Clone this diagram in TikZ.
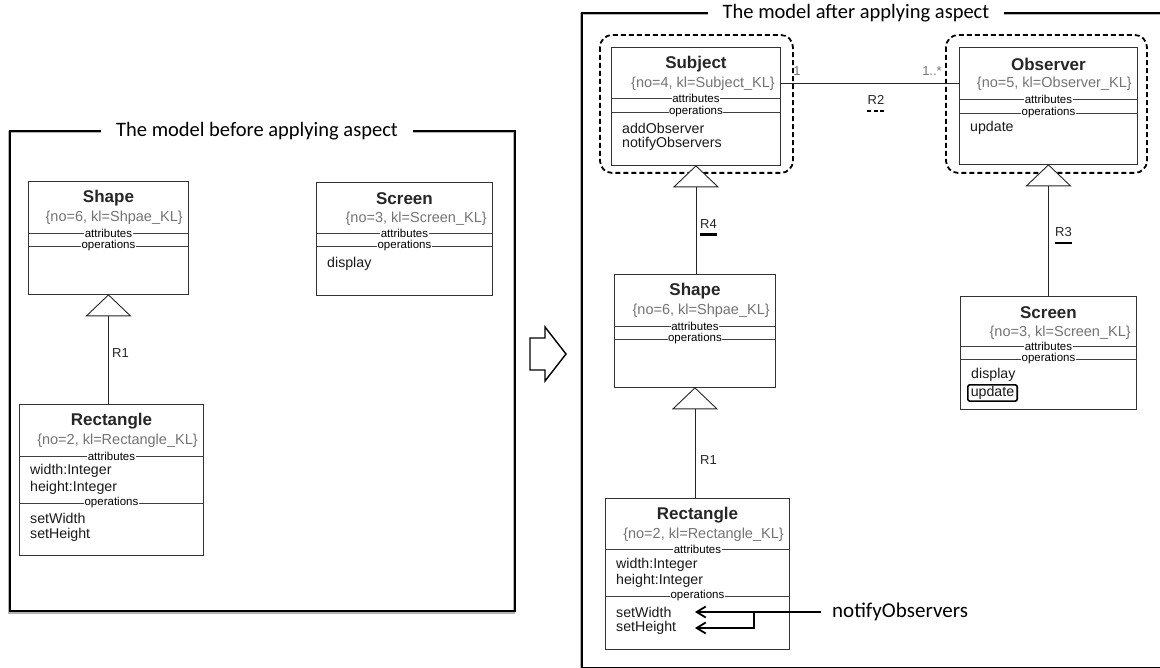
\documentclass[tikz,border=0pt]{standalone}
\usepackage{fontspec}
\setmainfont{Liberation Sans}
\newfontfamily\calibfont{Carlito}
\usepackage{tikz}
\usetikzlibrary{positioning, calc, arrows.meta}
\tikzset{
  frame/.style={line width=2.6pt, line join=miter},
  frameshadow/.style={line width=2.6pt, draw=black!30},
  frametitle/.style={font=\calibfont\fontsize{20.5}{24}\selectfont, fill=white, inner xsep=15pt, inner ysep=2pt}
}
\tikzset{
  classbox/.style={draw=black!80, line width=0.9pt, anchor=north west, inner sep=0pt},
  classname/.style={font=\fontsize{17}{20}\selectfont\bfseries, text=black!85, inner sep=0pt},
  stereo/.style={font=\fontsize{14.5}{17}\selectfont, text=black!55, inner sep=0pt, anchor=east},
  member/.style={font=\fontsize{14.2}{17}\selectfont, text=black!90, inner sep=0pt, anchor=west},
  sepline/.style={draw=black!75, line width=0.9pt},
  seplabel/.style={font=\fontsize{11.5}{13}\selectfont, fill=white, inner sep=0.6pt},
  genline/.style={draw=black!85, line width=0.9pt},
  gentri/.style={draw=black!85, fill=white, line width=0.9pt, line join=miter},
  rlabel/.style={font=\fontsize{13}{15}\selectfont, text=black!85, inner sep=0pt},
  multlabel/.style={font=\fontsize{13}{15}\selectfont, text=black!55, inner sep=0pt},
  focus/.style={draw, line width=1.8pt, dash pattern=on 5pt off 3pt, rounded corners=12pt},
  callarrow/.style={line width=1.8pt, -{Straight Barb[length=9pt, width=11pt]}}
}
\newcommand{\classhead}[3]{%
  \node[classname] (#1-name) at ([yshift=-17pt]#1.north) {#2};
  \node[stereo] (#1-kl) at ([xshift=-6pt, yshift=-37pt]#1.north east) {#3};
}
\newcommand{\compart}[3]{%
  \draw[sepline] ([yshift=-#2pt]#1.north west) -- node[seplabel] (#1-#3) {#3} ([yshift=-#2pt]#1.north east);
}
\newcommand{\classitem}[4]{%
  \node[member] (#1-#4) at ([xshift=11pt, yshift=-#2pt]#1.north west) {#3};
}

\begin{document}
\begin{tikzpicture}[x=1pt, y=-1pt]
  \useasboundingbox (0,0) rectangle (1160,668);
  % frame of the model before
  \draw[frameshadow] (8.8,132.2) rectangle (513.8,612.2);
  \draw[frame] (10,131) rectangle (515,611);
  \node[frametitle] (beforeT) at (257,131) {The model before applying aspect};
  % frame of the model after
  \draw[frameshadow] (580.8,14.2) rectangle (1172,669.7);
  \draw[frame] (582,13) rectangle (1172,668.5);
  \node[frametitle] (afterT) at (856,13) {The model after applying aspect};

  % ---- before ----
  \node[classbox, minimum width=160pt, minimum height=113pt] (shapeA) at (28,181) {};
  \classhead{shapeA}{Shape}{\{no=6, kl=Shpae\_KL\}}
  \compart{shapeA}{52}{attributes}
  \compart{shapeA}{65}{operations}

  \node[classbox, minimum width=176pt, minimum height=113pt] (screenA) at (316,182) {};
  \classhead{screenA}{Screen}{\{no=3, kl=Screen\_KL\}}
  \compart{screenA}{51}{attributes}
  \compart{screenA}{64}{operations}
  \classitem{screenA}{82}{display}{display}

  \node[classbox, minimum width=184pt, minimum height=151pt] (rectA) at (19,404) {};
  \classhead{rectA}{Rectangle}{\{no=2, kl=Rectangle\_KL\}}
  \compart{rectA}{52}{attributes}
  \classitem{rectA}{67}{width:Integer}{w}
  \classitem{rectA}{84}{height:Integer}{h}
  \compart{rectA}{99}{operations}
  \classitem{rectA}{114}{setWidth}{sw}
  \classitem{rectA}{131}{setHeight}{sh}

  \draw[gentri] (shapeA.south) -- ++(-22,21) -- ++(44,0) -- cycle;
  \coordinate (shapeA-base) at ([yshift=-21pt]shapeA.south);
  \draw[genline] (shapeA-base) -- (shapeA-base |- rectA.north);
  \node[rlabel, anchor=west] (r1A) at (112,353) {R1};

  % block arrow between the two models
  \draw[line width=1.4pt, line join=miter] (530,338) -- (545,338) -- (545,327) -- (566,354)
    -- (545,381) -- (545,370) -- (530,370) -- cycle;

  % ---- after ----
  \node[classbox, minimum width=169pt, minimum height=118pt] (subjB) at (611,47) {};
  \classhead{subjB}{Subject}{\{no=4, kl=Subject\_KL\}}
  \compart{subjB}{51}{attributes}
  \compart{subjB}{65}{operations}
  \classitem{subjB}{81}{addObserver}{add}
  \classitem{subjB}{97}{notifyObservers}{notify}

  \node[classbox, minimum width=178pt, minimum height=117pt] (obsB) at (959,47) {};
  \classhead{obsB}{Observer}{\{no=5, kl=Observer\_KL\}}
  \compart{obsB}{52}{attributes}
  \compart{obsB}{66}{operations}
  \classitem{obsB}{81}{update}{upd}

  % aspect roles
  \draw[focus] ([shift={(-11,-12)}]subjB.north west) rectangle ([shift={(12,7)}]subjB.south east);
  \draw[focus] ([shift={(-13,-12)}]obsB.north west) rectangle ([shift={(9,8)}]obsB.south east);

  \coordinate (assocA) at ([yshift=23pt]subjB.east);
  \draw[genline] (assocA) -- (assocA -| obsB.west);
  \node[multlabel] (multA) at (797,71) {1};
  \node[multlabel] (multB) at (932,71) {1..*};
  \node[rlabel] (r2) at (876,100) {R2};
  \draw[line width=2.4pt, dash pattern=on 4pt off 2.5pt] ([yshift=-6pt]r2.south west) -- ([yshift=-6pt]r2.south east);

  \node[classbox, minimum width=161pt, minimum height=113pt] (shapeB) at (614,274) {};
  \classhead{shapeB}{Shape}{\{no=6, kl=Shpae\_KL\}}
  \compart{shapeB}{52}{attributes}
  \compart{shapeB}{65}{operations}

  \draw[gentri] (subjB.south) -- ++(-22,21) -- ++(44,0) -- cycle;
  \coordinate (subjB-base) at ([yshift=-21pt]subjB.south);
  \draw[genline] (subjB-base) -- (subjB-base |- shapeB.north);
  \node[rlabel, anchor=west] (r4) at (700,224) {R4};
  \draw[line width=2.4pt] ([yshift=-6pt]r4.south west) -- ([yshift=-6pt]r4.south east);

  \node[classbox, minimum width=176pt, minimum height=113pt] (screenB) at (960,296) {};
  \classhead{screenB}{Screen}{\{no=3, kl=Screen\_KL\}}
  \compart{screenB}{50}{attributes}
  \compart{screenB}{63}{operations}
  \classitem{screenB}{79}{display}{display}
  \node[member, draw=black, line width=1.6pt, rounded corners=2pt, inner xsep=3pt, inner ysep=1.5pt]
    (screenB-upd) at ([xshift=7pt, yshift=-97pt]screenB.north west) {update};

  \draw[gentri] (obsB.south) -- ++(-22,21) -- ++(44,0) -- cycle;
  \coordinate (obsB-base) at ([yshift=-21pt]obsB.south);
  \draw[genline] (obsB-base) -- (obsB-base |- screenB.north);
  \node[rlabel, anchor=west] (r3) at (1055,232) {R3};
  \draw[line width=2.4pt] ([yshift=-6pt]r3.south west) -- ([yshift=-6pt]r3.south east);

  \node[classbox, minimum width=184pt, minimum height=151pt] (rectB) at (605,498) {};
  \classhead{rectB}{Rectangle}{\{no=2, kl=Rectangle\_KL\}}
  \compart{rectB}{51}{attributes}
  \classitem{rectB}{67}{width:Integer}{w}
  \classitem{rectB}{83}{height:Integer}{h}
  \compart{rectB}{98}{operations}
  \classitem{rectB}{114}{setWidth}{sw}
  \classitem{rectB}{130}{setHeight}{sh}

  \draw[gentri] (shapeB.south) -- ++(-22,21) -- ++(44,0) -- cycle;
  \coordinate (shapeB-base) at ([yshift=-21pt]shapeB.south);
  \draw[genline] (shapeB-base) -- (shapeB-base |- rectB.north);
  \node[rlabel, anchor=west] (r1B) at (700,460) {R1};

  % advice calls
  \node[font=\calibfont\fontsize{21}{25}\selectfont, anchor=west, inner sep=0pt] (notifyCall) at (832,612) {notifyObservers};
  \coordinate (tipW) at (695,612);
  \coordinate (tipH) at (695,628);
  \coordinate (fork) at (754,612);
  \draw[callarrow, shorten <=11pt] (notifyCall.west) -- (tipW);
  \draw[callarrow] (fork) |- (tipH);
\end{tikzpicture}
\end{document}
